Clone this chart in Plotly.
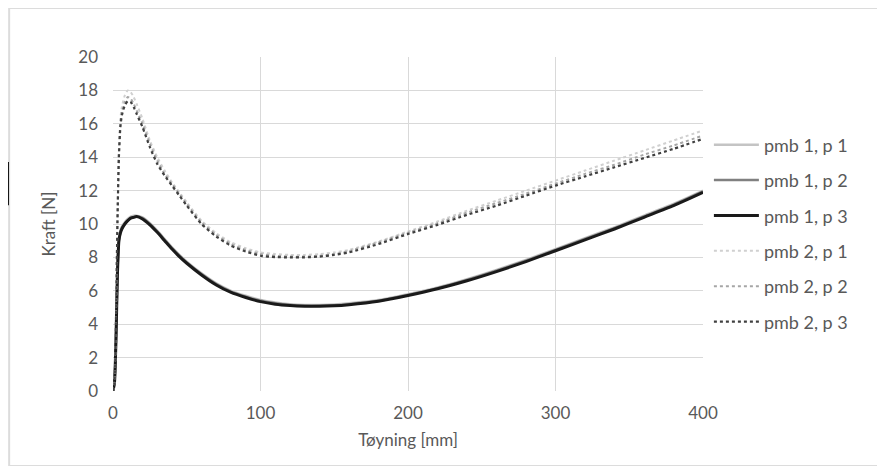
import plotly.graph_objects as go

x_vals = [0, 1, 2, 3, 4, 5, 6, 8, 10, 12, 14, 16, 20, 25, 30, 35, 40, 45, 50, 60, 70, 80, 90, 100,
          110, 120, 130, 140, 150, 160, 180, 200, 220, 240, 260, 280, 300, 320, 340, 360, 380, 400]

pmb1_p1 = [0, 0.6, 3.2, 7.2, 9.1, 9.6, 9.85, 10.1, 10.3, 10.45, 10.5, 10.5, 10.4, 10.05, 9.6, 9.1, 8.6, 8.15,
           7.75, 7.05, 6.45, 6.0, 5.7, 5.45, 5.3, 5.2, 5.15, 5.15, 5.18, 5.25, 5.45, 5.8, 6.2, 6.7, 7.25,
           7.85, 8.5, 9.15, 9.8, 10.5, 11.2, 12.0]
pmb1_p2 = [0, 0.5, 3.0, 7.0, 9.0, 9.5, 9.75, 10.0, 10.2, 10.35, 10.42, 10.45, 10.35, 10.0, 9.55, 9.05, 8.55,
           8.1, 7.7, 7.0, 6.4, 5.95, 5.65, 5.4, 5.25, 5.15, 5.1, 5.1, 5.13, 5.2, 5.4, 5.75, 6.15, 6.65,
           7.2, 7.8, 8.45, 9.1, 9.75, 10.45, 11.15, 11.95]
pmb1_p3 = [0, 0.5, 3.0, 7.0, 9.0, 9.45, 9.7, 10.0, 10.2, 10.35, 10.4, 10.45, 10.3, 9.95, 9.5, 9.0, 8.5,
           8.05, 7.65, 6.95, 6.35, 5.9, 5.6, 5.35, 5.2, 5.12, 5.08, 5.07, 5.1, 5.17, 5.38, 5.72, 6.12,
           6.6, 7.15, 7.75, 8.4, 9.05, 9.7, 10.4, 11.1, 11.9]

pmb2_p1 = [0, 0.6, 4.5, 10.5, 14.5, 16.3, 17.0, 17.7, 18.0, 17.9, 17.6, 17.2, 16.3, 15.0, 14.0, 13.2, 12.5,
           11.9, 11.3, 10.2, 9.45, 8.9, 8.55, 8.3, 8.2, 8.15, 8.15, 8.2, 8.3, 8.45, 8.95, 9.55, 10.15,
           10.8, 11.4, 12.0, 12.6, 13.2, 13.8, 14.4, 15.0, 15.6]
pmb2_p2 = [0, 0.5, 4.2, 10.2, 14.2, 16.0, 16.7, 17.3, 17.6, 17.5, 17.2, 16.8, 16.0, 14.8, 13.8, 13.0, 12.4,
           11.8, 11.2, 10.1, 9.35, 8.8, 8.45, 8.2, 8.1, 8.05, 8.05, 8.1, 8.2, 8.38, 8.9, 9.48, 10.05,
           10.68, 11.25, 11.82, 12.42, 13.0, 13.55, 14.15, 14.7, 15.3]
pmb2_p3 = [0, 0.5, 4.0, 10.0, 14.0, 15.8, 16.5, 17.1, 17.35, 17.3, 17.0, 16.6, 15.8, 14.6, 13.6, 12.9, 12.3,
           11.7, 11.1, 10.0, 9.25, 8.7, 8.35, 8.1, 8.02, 8.0, 8.0, 8.05, 8.15, 8.3, 8.8, 9.4, 9.95,
           10.55, 11.1, 11.7, 12.3, 12.85, 13.4, 13.95, 14.5, 15.1]

series_names = ["pmb 1, p 1", "pmb 1, p 2", "pmb 1, p 3", "pmb 2, p 1", "pmb 2, p 2", "pmb 2, p 3"]
series_values = [pmb1_p1, pmb1_p2, pmb1_p3, pmb2_p1, pmb2_p2, pmb2_p3]
series_colors = ["#c4c4c4", "#808080", "#1a1a1a", "#d0d0d0", "#a6a6a6", "#404040"]
series_dash = ["solid", "solid", "solid", "dot", "dot", "dot"]
series_width = [2.5, 2.5, 3, 2, 2, 2.2]

x_ticks = [0, 100, 200, 300, 400]
y_ticks = [0, 2, 4, 6, 8, 10, 12, 14, 16, 18, 20]

fig = go.Figure()
for name, vals, col, dash, w in zip(series_names, series_values, series_colors, series_dash, series_width):
    fig.add_trace(go.Scatter(
        x=x_vals, y=vals, mode="lines", name=name, legendgroup=name,
        line=dict(color=col, dash=dash, width=w, shape="spline", smoothing=0.6),
    ))

font_col = "#595959"
fig.update_layout(
    width=869, height=458,
    margin=dict(l=105, r=174, t=49, b=75),
    paper_bgcolor="white", plot_bgcolor="white",
    font=dict(family="Lato, Open Sans, sans-serif", size=17, color=font_col),
    showlegend=True,
    legend=dict(x=1.01, y=0.792, xanchor="left", yanchor="top",
                tracegroupgap=9, itemwidth=45, traceorder="grouped",
                font=dict(size=18, color=font_col), bgcolor="rgba(0,0,0,0)"),
    xaxis=dict(range=[0, 400], tickvals=x_ticks, showgrid=True, gridcolor="#d9d9d9", gridwidth=1,
               zeroline=False, showline=False, ticks="", ticklabelstandoff=10,
               tickfont=dict(size=17, color=font_col),
               title=dict(text="Tøyning [mm]", font=dict(size=17, color=font_col), standoff=12)),
    yaxis=dict(range=[0, 20], tickvals=y_ticks, showgrid=True, gridcolor="#d9d9d9", gridwidth=1,
               zeroline=False, showline=False, ticks="", ticklabelstandoff=14,
               tickfont=dict(size=17, color=font_col),
               title=dict(text="Kraft [N]", font=dict(size=17, color=font_col), standoff=18)),
    shapes=[
        dict(type="rect", xref="paper", yref="paper", x0=-0.176, x1=1.45, y0=-0.2246, y1=1.1467,
             line=dict(color="#dcdcdc", width=2), fillcolor="rgba(0,0,0,0)", layer="below"),
        dict(type="line", xref="paper", yref="paper", x0=-0.178, x1=-0.178, y0=0.556, y1=0.686,
             line=dict(color="#111111", width=2)),
    ],
)

fig.write_html("out.html")
